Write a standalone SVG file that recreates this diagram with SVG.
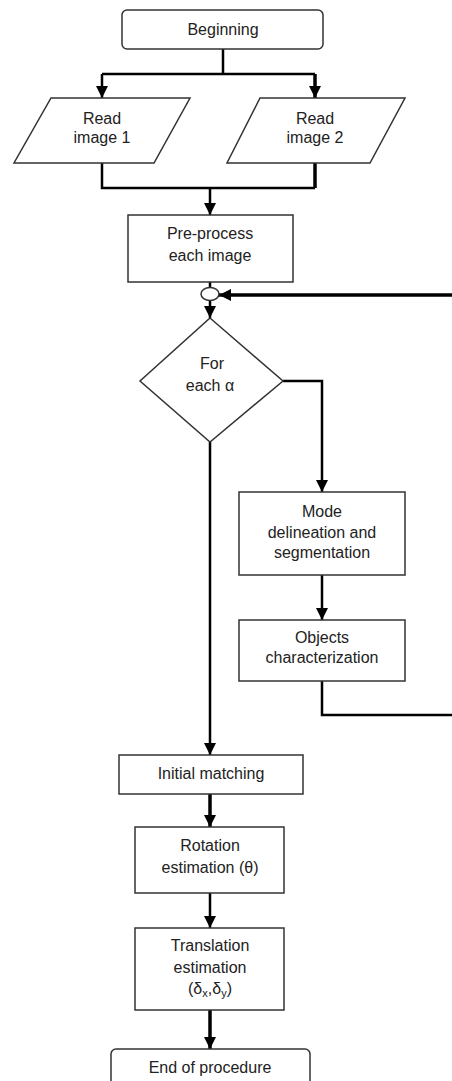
<svg xmlns="http://www.w3.org/2000/svg" width="452" height="1081" viewBox="0 0 452 1081">
<style>
.box{fill:#fff;stroke:#333;stroke-width:1.5}
.t{font-family:"Liberation Sans",Arial,sans-serif;font-size:16px;fill:#222;text-anchor:middle}
.c{fill:none;stroke:#000;stroke-width:2.5}
.ct{fill:none;stroke:#000;stroke-width:3.5}
</style>
<defs>
<marker id="ah" viewBox="0 0 10 10" refX="10" refY="5" markerWidth="12" markerHeight="12" markerUnits="userSpaceOnUse" orient="auto"><path d="M0,0 L10,5 L0,10 z" fill="#000"/></marker>
</defs>
<rect width="452" height="1081" fill="#fff"/>
<g id="connectors">
<path class="c" d="M223,49 V74 M102,74 H315"/>
<path class="c" d="M102,74 V98" marker-end="url(#ah)"/>
<path class="ct" d="M315,74 V98" marker-end="url(#ah)"/>
<path class="c" d="M102,163 V188 H315"/>
<path class="ct" d="M315,163 V188"/>
<path class="c" d="M210,188 V215" marker-end="url(#ah)"/>
<path class="c" d="M210,282 V288"/>
<path class="ct" d="M452,295 H219" marker-end="url(#ah)"/>
<path class="c" d="M210,300 V318" marker-end="url(#ah)"/>
<path class="c" d="M283,381 H322 V492" marker-end="url(#ah)"/>
<path class="c" d="M322,575 V620" marker-end="url(#ah)"/>
<path class="c" d="M322,681 V715 H452"/>
<path class="c" d="M210,442 V755" marker-end="url(#ah)"/>
<path class="ct" d="M210,794 V827" marker-end="url(#ah)"/>
<path class="c" d="M210,893 V928" marker-end="url(#ah)"/>
<path class="ct" d="M210,1010 V1049" marker-end="url(#ah)"/>
</g>
<g id="beginning"><rect class="box" x="122" y="10" width="201" height="39" rx="5"/><text class="t" x="223" y="35">Beginning</text></g>
<g id="read1"><polygon class="box" points="51,98 190,98 154,163 14,163"/><text class="t" x="102" y="124">Read</text><text class="t" x="102" y="143">image 1</text></g>
<g id="read2"><polygon class="box" points="260,98 405,98 370,163 227,163"/><text class="t" x="315" y="124">Read</text><text class="t" x="315" y="143">image 2</text></g>
<g id="preprocess"><rect class="box" x="128" y="215" width="165" height="67"/><text class="t" x="210" y="239">Pre-process</text><text class="t" x="210" y="261">each image</text></g>
<g id="junction"><ellipse class="box" cx="210" cy="294" rx="9" ry="6.5"/></g>
<g id="foreach"><polygon class="box" points="210,318 283,381 210,442 140,381"/><text class="t" x="212" y="369">For</text><text class="t" x="210" y="391">each α</text></g>
<g id="mode"><rect class="box" x="239" y="492" width="166" height="83"/><text class="t" x="322" y="517">Mode</text><text class="t" x="322" y="538">delineation and</text><text class="t" x="322" y="558">segmentation</text></g>
<g id="objects"><rect class="box" x="239" y="620" width="166" height="61"/><text class="t" x="322" y="643">Objects</text><text class="t" x="322" y="663">characterization</text></g>
<g id="initial"><rect class="box" x="119" y="755" width="184" height="39"/><text class="t" x="211" y="779">Initial matching</text></g>
<g id="rotation"><rect class="box" x="135" y="827" width="149" height="66"/><text class="t" x="210" y="851">Rotation</text><text class="t" x="210" y="873">estimation (θ)</text></g>
<g id="translation"><rect class="box" x="135" y="928" width="149" height="82"/><text class="t" x="210" y="951">Translation</text><text class="t" x="210" y="973">estimation</text><text class="t" x="210" y="994">(δ<tspan font-size="11" dy="3">x</tspan><tspan dy="-3">,δ</tspan><tspan font-size="11" dy="3">y</tspan><tspan dy="-3">)</tspan></text></g>
<g id="end"><rect class="box" x="111" y="1049" width="199" height="45" rx="5"/><text class="t" x="210" y="1073">End of procedure</text></g>
</svg>
